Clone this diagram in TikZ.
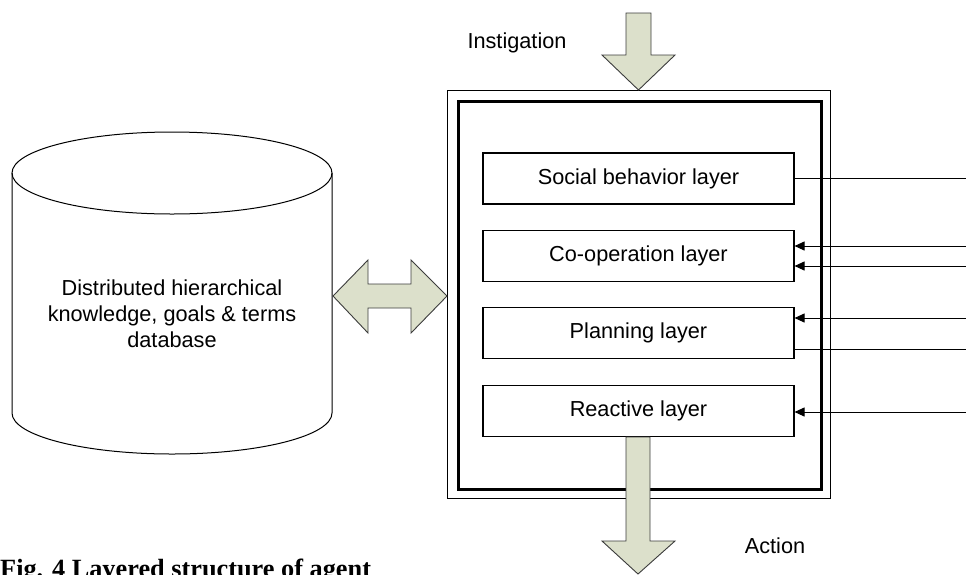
\documentclass[tikz,border=0pt]{standalone}
\usepackage{fontspec}
\setmainfont{Liberation Sans}
\newfontfamily\capfont{Liberation Serif}
\usetikzlibrary{arrows.meta}
\definecolor{arrowfill}{RGB}{220,224,203}
\definecolor{arrowedge}{RGB}{60,60,60}
\tikzset{
  lbl/.style={font=\fontsize{21.7}{26}\selectfont, inner sep=0pt},
  layerbox/.style={draw, line width=1.1pt, minimum width=311pt, minimum height=51pt,
    inner sep=0pt, text height=15.6pt, text depth=4.5pt,
    font=\fontsize{21.7}{26}\selectfont},
  fatarrow/.style={fill=arrowfill, draw=arrowedge, line width=0.9pt, line join=miter},
  wire/.style={line width=1pt},
  inwire/.style={wire, -{Triangle[length=10pt,width=9pt]}}
}
\begin{document}
\begin{tikzpicture}[x=1pt,y=-1pt]
\useasboundingbox (0,0) rectangle (966,574);

% database cylinder
\draw[line width=1pt] (172,173) ellipse [x radius=160, y radius=41];
\draw[line width=1pt] (12,173) -- (12,413)
  .. controls (12,435.6) and (83.6,454) .. (172,454)
  .. controls (260.4,454) and (332,435.6) .. (332,413) -- (332,173);
\node[lbl, align=center, font=\fontsize{21.7}{26}\selectfont] (db) at (172,314)
  {Distributed hierarchical\\knowledge, goals \& terms\\database};

% agent frame
\node[draw, line width=1pt, minimum width=383pt, minimum height=408pt, inner sep=0pt,
  anchor=north west] (outer) at (447,90) {};
\node[draw, line width=2.5pt, minimum width=363pt, minimum height=388pt, inner sep=0pt,
  anchor=north west] (inner) at (457,100) {};

% layers
\node[layerbox] (social) at (638.5,178.5) {Social behavior layer};
\node[layerbox] (coop)   at (638.5,256)   {Co-operation layer};
\node[layerbox] (plan)   at (638.5,333)   {Planning layer};
\node[layerbox] (react)  at (638.5,411)   {Reactive layer};

% external links
\coordinate (e1) at (966,178);
\coordinate (e2) at (966,246);
\coordinate (e3) at (966,266);
\coordinate (e4) at (966,318);
\coordinate (e5) at (966,349);
\coordinate (e6) at (966,412);
\draw[wire]   (social.east |- e1) -- (e1);
\draw[inwire] (e2) -- (coop.east |- e2);
\draw[inwire] (e3) -- (coop.east |- e3);
\draw[inwire] (e4) -- (plan.east |- e4);
\draw[wire]   (plan.east |- e5) -- (e5);
\draw[inwire] (e6) -- (react.east |- e6);

% instigation arrow
\draw[fatarrow] (626,13) -- (651,13) -- (651,55) -- (675,55) -- (638.5,90)
  -- (602,55) -- (626,55) -- cycle;
\node[lbl, anchor=base] (instig) at (517,48.5) {Instigation};

% action arrow
\draw[fatarrow] (626,437) -- (650,437) -- (650,541) -- (675,541) -- (638,574)
  -- (602,541) -- (626,541) -- cycle;
\node[lbl, anchor=base] (action) at (775,553.5) {Action};

% exchange with the database
\draw[fatarrow] (333,296) -- (368,260) -- (368,284) -- (411,284) -- (411,260)
  -- (447,296) -- (411,333) -- (411,308) -- (368,308) -- (368,333) -- cycle;

% caption
\node[inner sep=0pt, anchor=base west, font=\capfont\bfseries\fontsize{26.3}{30}\selectfont]
  (cap) at (0,577.5) {Fig. 4 Layered structure of agent};
\end{tikzpicture}
\end{document}
